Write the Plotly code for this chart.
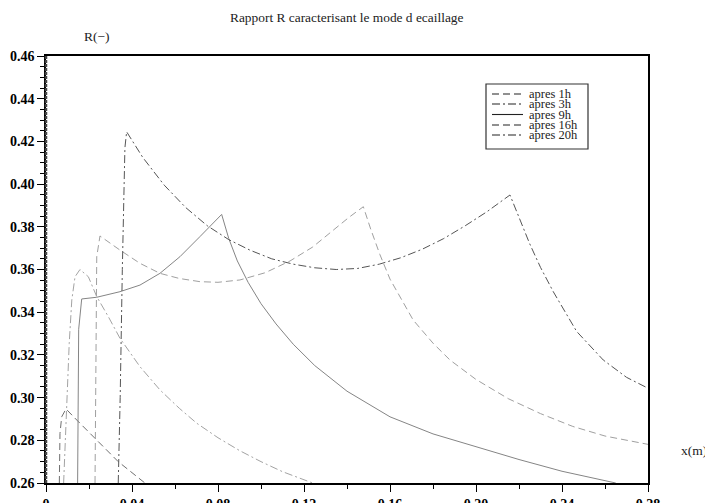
import plotly.graph_objects as go

# ---------------- data ----------------
labels = ["apres 1h", "apres 3h", "apres 9h", "apres 16h", "apres 20h"]

x_1h = [0.0062, 0.0063, 0.0065, 0.0073, 0.0093, 0.0143, 0.0236, 0.0336, 0.0460]
y_1h = [0.2600, 0.2750, 0.2832, 0.2910, 0.2947, 0.2895, 0.2801, 0.2700, 0.2600]

x_3h = [0.0082, 0.0085, 0.0088, 0.0096, 0.0108, 0.0120, 0.0135, 0.0158, 0.0197, 0.0236,
        0.0290, 0.0344, 0.0437, 0.0530, 0.0620, 0.0701, 0.0800, 0.0900, 0.1000, 0.1100, 0.1240]
y_3h = [0.2600, 0.2680, 0.2770, 0.3020, 0.3254, 0.3457, 0.3566, 0.3600, 0.3566, 0.3473,
        0.3379, 0.3278, 0.3145, 0.3036, 0.2950, 0.2880, 0.2812, 0.2752, 0.2700, 0.2653, 0.2600]

x_9h = [0.0147, 0.0149, 0.0152, 0.0166, 0.0236, 0.0344, 0.0437, 0.0530, 0.0623, 0.0716,
        0.0817, 0.0850, 0.0890, 0.0940, 0.1000, 0.1070, 0.1150, 0.1250, 0.1400, 0.1600,
        0.1800, 0.2000, 0.2200, 0.2400, 0.2650]
y_9h = [0.2600, 0.3000, 0.3320, 0.3462, 0.3470, 0.3496, 0.3527, 0.3582, 0.3660, 0.3754,
        0.3858, 0.3745, 0.3640, 0.3540, 0.3440, 0.3345, 0.3250, 0.3150, 0.3030, 0.2910,
        0.2830, 0.2770, 0.2710, 0.2655, 0.2600]

x_16h = [0.0228, 0.0231, 0.0233, 0.0236, 0.0251, 0.0300, 0.0344, 0.0437, 0.0530, 0.0620,
         0.0716, 0.0800, 0.0902, 0.1020, 0.1135, 0.1240, 0.1336, 0.1410, 0.1476, 0.1510,
         0.1553, 0.1600, 0.1708, 0.1800, 0.1879, 0.2000, 0.2150, 0.2300, 0.2450, 0.2600, 0.2800]
y_16h = [0.2600, 0.3000, 0.3400, 0.3660, 0.3757, 0.3722, 0.3691, 0.3629, 0.3582, 0.3558,
         0.3543, 0.3540, 0.3551, 0.3585, 0.3640, 0.3705, 0.3785, 0.3845, 0.3894, 0.3790,
         0.3670, 0.3555, 0.3363, 0.3255, 0.3176, 0.3085, 0.2995, 0.2925, 0.2865, 0.2820, 0.2781]

x_20h = [0.0336, 0.0345, 0.0355, 0.0367, 0.0375, 0.0450, 0.0550, 0.0650, 0.0750, 0.0850,
         0.0950, 0.1050, 0.1150, 0.1250, 0.1350, 0.1450, 0.1550, 0.1650, 0.1750, 0.1850,
         0.1950, 0.2050, 0.2158, 0.2200, 0.2250, 0.2300, 0.2360, 0.2468, 0.2592, 0.2700, 0.2800]
y_20h = [0.2600, 0.3000, 0.3600, 0.4170, 0.4245, 0.4125, 0.3995, 0.3890, 0.3805, 0.3740,
         0.3690, 0.3650, 0.3625, 0.3608, 0.3600, 0.3605, 0.3625, 0.3655, 0.3695, 0.3745,
         0.3805, 0.3870, 0.3949, 0.3845, 0.3720, 0.3610, 0.3495, 0.3310, 0.3176, 0.3095, 0.3044]

x_tickvals = [0, 0.04, 0.08, 0.12, 0.16, 0.20, 0.24, 0.28]
x_ticktext = ["0", "0.04", "0.08", "0.12", "0.16", "0.20", "0.24", "0.28"]
y_tickvals = [0.26, 0.28, 0.30, 0.32, 0.34, 0.36, 0.38, 0.40, 0.42, 0.44, 0.46]
y_ticktext = ["0.26", "0.28", "0.30", "0.32", "0.34", "0.36", "0.38", "0.40", "0.42", "0.44", "0.46"]

# ---------------- styles ----------------
SERIF = "Liberation Serif"
DASH = "7px,4px"
DASHDOT = "8px,3px,2px,3px"
series = [
    (x_1h, y_1h, "#707070", DASH),
    (x_3h, y_3h, "#a3a3a3", DASHDOT),
    (x_9h, y_9h, "#858585", "solid"),
    (x_16h, y_16h, "#a0a0a0", DASH),
    (x_20h, y_20h, "#555555", DASHDOT),
]

fig = go.Figure()
for (xs, ys, col, dash), name in zip(series, labels):
    fig.add_trace(go.Scatter(x=xs, y=ys, mode="lines", name=name, showlegend=False,
                             line=dict(color=col, width=1.0, dash=dash)))

# the page body has an 8px margin: figure is placed at (8, 8) in the window
OFF = 8
WIN_W, WIN_H = 713, 503
W, H = WIN_W - OFF, WIN_H - OFF
# plot area in window pixels: x 46..648, y 56..483
L, R, T, B = 46, 648, 56, 483

def px(x):
    return (x - L) / (R - L)

def py(y):
    return (B - y) / (B - T)

annotations = [
    dict(text="Rapport R caracterisant le mode d ecaillage", x=0.5, y=py(18), xref="paper", yref="paper",
         showarrow=False, xanchor="center", yanchor="middle", font=dict(family=SERIF, size=13.4, color="#222")),
    dict(text="R(\u2212)", x=px(97), y=py(37), xref="paper", yref="paper",
         showarrow=False, xanchor="center", yanchor="middle", font=dict(family=SERIF, size=13.5, color="#222")),
    dict(text="x(m)", x=px(694), y=py(450), xref="paper", yref="paper",
         showarrow=False, xanchor="center", yanchor="middle", font=dict(family=SERIF, size=13.5, color="#222")),
]
shapes = [
    # legend box
    dict(type="rect", xref="paper", yref="paper", x0=px(486), x1=px(588), y0=py(149), y1=py(84),
         line=dict(color="#333", width=1.2), fillcolor="white", layer="above"),
    # heavier left axis
    dict(type="line", xref="paper", yref="paper", x0=0, x1=0, y0=0, y1=1,
         line=dict(color="#444", width=2.5, dash="3px,1px")),
]
legend_y = [94, 104, 114.5, 125, 135]
legend_dash = [DASH, DASHDOT, "solid", DASH, DASHDOT]
for lab, yy, d in zip(labels, legend_y, legend_dash):
    shapes.append(dict(type="line", xref="paper", yref="paper", x0=px(492), x1=px(523), y0=py(yy), y1=py(yy),
                       line=dict(color="#222", width=1.1, dash=d), layer="above"))
    annotations.append(dict(text=lab, x=px(527), y=py(yy), xref="paper", yref="paper", showarrow=False,
                            xanchor="left", yanchor="middle", font=dict(family=SERIF, size=12.5, color="#222")))

fig.update_layout(
    template="none",
    width=W, height=H,
    margin=dict(l=L - OFF, r=W - (R - OFF), t=T - OFF, b=H - (B - OFF), pad=0),
    paper_bgcolor="white", plot_bgcolor="white",
    showlegend=False,
    font=dict(family=SERIF, color="black"),
    annotations=annotations,
    shapes=shapes,
)
fig.update_xaxes(range=[0, 0.28], tickvals=x_tickvals, ticktext=x_ticktext, showgrid=False, zeroline=False,
                 showline=True, linecolor="black", linewidth=1.5, mirror=True,
                 ticks="outside", ticklen=7, tickwidth=1, tickcolor="black",
                 minor=dict(dtick=0.02, ticks="outside", ticklen=4, tickcolor="black", showgrid=False),
                 tickfont=dict(family=SERIF, size=14, color="black", weight="bold"), automargin=False)
fig.update_yaxes(range=[0.26, 0.46], tickvals=y_tickvals, ticktext=y_ticktext, showgrid=False, zeroline=False,
                 showline=True, linecolor="black", linewidth=1.5, mirror=True,
                 ticks="outside", ticklen=7, tickwidth=1, tickcolor="black",
                 minor=dict(dtick=0.005, tick0=0.26, ticks="outside", ticklen=4, tickcolor="black", showgrid=False),
                 tickfont=dict(family=SERIF, size=14, color="black", weight="bold"), automargin=False)

fig.write_html("out.html")
